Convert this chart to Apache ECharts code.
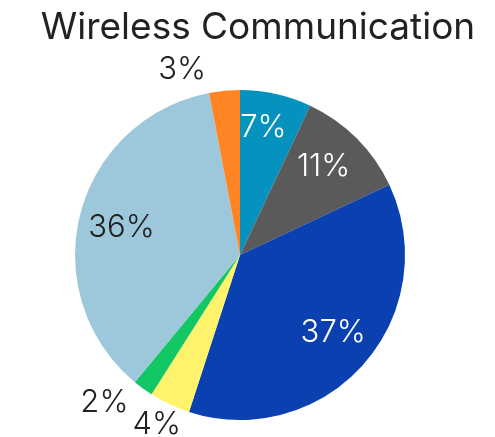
<!DOCTYPE html>
<html>
<head>
<meta charset="utf-8">
<script src="https://cdn.jsdelivr.net/npm/echarts@6/dist/echarts.min.js"></script>
<style>
  html, body { margin: 0; padding: 0; background: #fff; }
  #chart { width: 495px; height: 437px; }
</style>
</head>
<body>
<div id="chart"></div>
<script>
// Share of each segment, clockwise from 12 o'clock
const categories = ['Segment 1', 'Segment 2', 'Segment 3', 'Segment 4', 'Segment 5', 'Segment 6', 'Segment 7'];
const shares = [7, 11, 37, 4, 2, 36, 3];
const colors = ['#0592bf', '#5a5a5a', '#0a40b0', '#fff36c', '#12c764', '#9dc8dc', '#ff8524'];
// Which labels sit inside their slice, and their text colour
const insideLabel = [true, true, true, false, false, true, false];
const insideLabelColor = ['#ffffff', '#ffffff', '#ffffff', null, null, '#222222', null];
// Leader geometry for labels drawn outside the pie (line itself hidden)
const outerLen = { 3: 23, 4: 18, 6: 21 };
const outerLen2 = { 3: -26, 4: -1, 6: 11.5 };

const FONT = 'Inter, "Noto Sans", sans-serif';
const R = 165;
const CENTER = [240, 255];

const mainData = categories.map((name, i) => {
  const item = { name, value: shares[i], itemStyle: { color: colors[i] } };
  if (insideLabel[i]) {
    item.label = { show: false };
  } else {
    item.label = { show: true, position: 'outside' };
    item.labelLine = { show: false, length: outerLen[i], length2: outerLen2[i] };
  }
  return item;
});

const ringData = categories.map((name, i) => {
  const label = insideLabel[i] ? { show: true, color: insideLabelColor[i] } : { show: false };
  // the narrow first slice carries its label a little further out
  if (i === 0) { label.formatter = '{c}%\n '; label.lineHeight = 17; }
  return { name, value: shares[i], label };
});

const chart = echarts.init(document.getElementById('chart'), null, { renderer: 'canvas' });
chart.setOption({
  animation: false,
  backgroundColor: '#ffffff',
  title: {
    text: 'Wireless Communication',
    left: 253,
    textAlign: 'center',
    top: 4,
    textStyle: { fontFamily: FONT, fontSize: 37, fontWeight: 400, color: '#222222' }
  },
  series: [
    {
      type: 'pie',
      center: CENTER,
      radius: R,
      startAngle: 90,
      clockwise: true,
      avoidLabelOverlap: false,
      data: mainData,
      itemStyle: { borderWidth: 0 },
      label: {
        formatter: '{c}%',
        fontFamily: FONT, fontSize: 31, fontWeight: 300, color: '#222222',
        distanceToLabelLine: 5
      },
      emphasis: { disabled: true }
    },
    {
      // transparent ring that only carries the in-slice labels
      type: 'pie',
      center: CENTER,
      radius: [101, 136],
      startAngle: 91.5,
      clockwise: true,
      silent: true,
      avoidLabelOverlap: false,
      data: ringData,
      itemStyle: { color: 'rgba(0,0,0,0)' },
      labelLine: { show: false },
      label: {
        position: 'inside',
        formatter: '{c}%',
        fontFamily: FONT, fontSize: 31, fontWeight: 300
      },
      emphasis: { disabled: true }
    }
  ]
});
</script>
</body>
</html>
